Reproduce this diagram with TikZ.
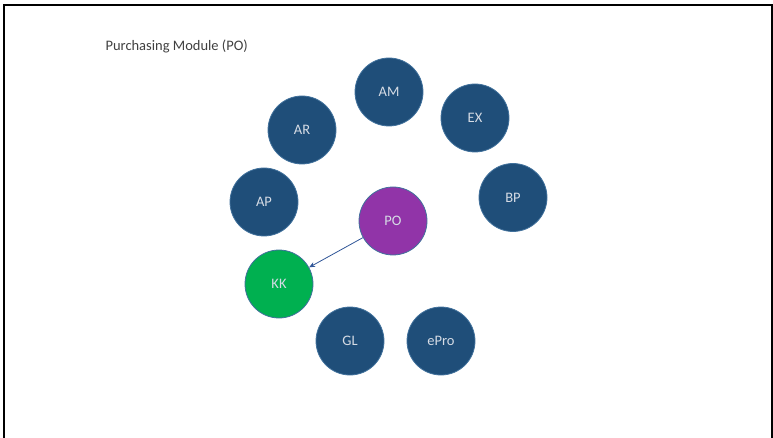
\documentclass[tikz,border=0pt]{standalone}
\usepackage{fontspec}
\setmainfont{Carlito}
\usetikzlibrary{arrows.meta}
\definecolor{modblue}{RGB}{31,78,121}
\definecolor{modedge}{RGB}{65,113,156}
\definecolor{popurple}{RGB}{145,52,168}
\definecolor{kkgreen}{RGB}{0,176,80}
\definecolor{modtext}{RGB}{214,220,229}
\definecolor{titlegray}{RGB}{64,64,64}
\definecolor{arrowblue}{RGB}{47,85,151}
\begin{document}
\begin{tikzpicture}[x=1pt,y=-1pt,
  module/.style={circle,draw=modedge,line width=0.8pt,minimum size=68pt,inner sep=0pt,text=modtext,font=\fontsize{14.5}{17}\selectfont}]
  \useasboundingbox (0,0) rectangle (773,438);
  \draw[line width=2pt] (4,438) -- (4,5) -- (771.8,5) -- (771.8,438);
  \node[anchor=base west,text=titlegray,font=\fontsize{14.5}{17}\selectfont] (title) at (102,50.5) {Purchasing Module (PO)};
   \foreach \n/\x/\y in {AM/389/92,EX/475/118,AR/302/130,AP/264/202,BP/513/197.5,GL/350/341,ePro/441/341}
   {
    \node[module,fill=modblue] (\n) at (\x,\y) {\n};
   }
  \node[module,fill=popurple] (PO) at (393,221) {PO};
  \node[module,fill=kkgreen] (KK) at (279,284) {KK};
  \draw[-{Stealth[length=6pt,width=5pt]},arrowblue,line width=0.8pt] (PO) -- (KK);
\end{tikzpicture}
\end{document}
